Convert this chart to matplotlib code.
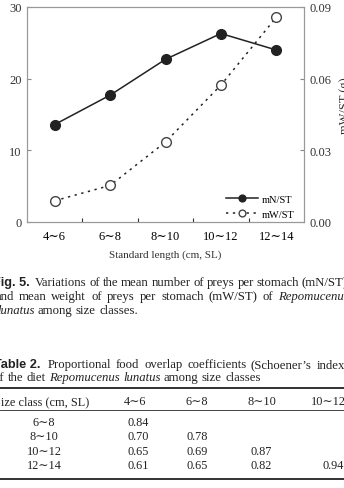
import matplotlib
matplotlib.use('Agg')
import matplotlib.pyplot as plt

# data
size_classes = ['4∼6', '6∼8', '8∼10', '10∼12', '12∼14']
mN_ST = [13.6, 17.7, 22.7, 26.3, 24.0]
mW_ST = [0.0089, 0.0153, 0.0335, 0.0573, 0.0857]

# table 2 (Schoener's index)
row_labels = ['6∼8', '8∼10', '10∼12', '12∼14']
col_labels = ['4∼6', '6∼8', '8∼10', '10∼12']
overlap = [[0.84],
           [0.70, 0.78],
           [0.65, 0.69, 0.87],
           [0.61, 0.65, 0.82, 0.94]]

serif = ['Liberation Serif', 'DejaVu Serif']
sans = ['Liberation Sans', 'DejaVu Sans']
plt.rcParams['font.family'] = serif
dark = '#222222'
txt = '#222222'

W, H = 344, 489
fig = plt.figure(figsize=(W / 100, H / 100), dpi=100)
renderer = fig.canvas.get_renderer()

def px(x, y):
    return x / W, 1 - y / H

ax = fig.add_axes([27 / W, 1 - 223 / H, 277 / W, 215 / H])
ax2 = ax.twinx()

x = list(range(len(size_classes)))
l1, = ax.plot(x, mN_ST, '-o', color=dark, lw=1.1, ms=7, mfc=dark, mec=dark, label='mN/ST')
l2, = ax2.plot(x, mW_ST, linestyle=(0, (1.5, 3)), marker='o', color=dark, lw=1.1,
               ms=7, mfc='white', mec='#444', mew=1.0, label='mW/ST')

ax.set_xlim(-0.5, 4.5)
ax.set_ylim(0, 30)
ax2.set_ylim(0, 0.09)
ax.set_yticks([0, 10, 20, 30])
ax2.set_yticks([0, 0.03, 0.06, 0.09])
ax2.set_yticklabels(['0.00', '0.03', '0.06', '0.09'])
ax.set_xticks([0.5, 1.5, 2.5, 3.5])
ax.set_xticklabels([])
ax.set_xticks(x, minor=True)
ax.set_xticklabels(size_classes, minor=True)
ax.tick_params(axis='x', which='major', direction='in', length=3, color='#888')
ax.tick_params(axis='x', which='minor', length=0, pad=6)
ax.tick_params(axis='both', labelsize=9, colors='#333')
ax.tick_params(axis='x', which='minor', labelsize=9)
ax.tick_params(axis='y', direction='in', length=3, color='#888', pad=4)
ax2.tick_params(axis='y', direction='in', length=3, color='#888', labelsize=9, pad=4,
                labelcolor='#333')
for a in (ax, ax2):
    for s in a.spines.values():
        s.set_color('#999')
        s.set_linewidth(0.8)

fig.text(*px(4, 108), 'mN/ST', rotation=90, ha='right', va='center', fontsize=9, color='#333')
fig.text(*px(339, 106), 'mW/ST (g)', rotation=90, ha='left', va='center', fontsize=9, color='#333')

leg = ax.legend(handles=[l1, l2], loc='lower right', frameon=False, fontsize=7.5,
                handlelength=3.0, handletextpad=0.4, labelspacing=0.55, markerscale=0.7,
                bbox_to_anchor=(1.0, -0.03))

fig.text(*px(165, 255), 'Standard length (cm, SL)', ha='center', va='center', fontsize=8, color='#333')


def text_w(s, **kw):
    t = fig.text(0, 0, s, **kw)
    w = t.get_window_extent(renderer).width
    t.remove()
    return w


def line(y, x0, x1, words, fs, justify=True, **base):
    # words: list of (word, extra style); justify between x0 and x1 in pixels
    styles = [dict(base, fontsize=fs, **st) for _, st in words]
    widths = [text_w(w, **st) for (w, _), st in zip(words, styles)]
    space = text_w('a b', fontsize=fs, **base) - text_w('ab', fontsize=fs, **base)
    if justify and len(words) > 1:
        gap = (x1 - x0 - sum(widths)) / (len(words) - 1)
    else:
        gap = space
    cx = x0
    for (w, _), st, wd in zip(words, styles, widths):
        fig.text(*px(cx, y), w, ha='left', va='center', color=txt, **st)
        cx += wd + gap


def words_of(s, **st):
    return [(w, st) for w in s.split()]


fs = 9.2
it = {'style': 'italic'}
bold = {'weight': 'bold', 'family': sans}
fig.text(*px(-7, 283), 'Fig. 5.', ha='left', va='center', fontsize=fs, color=txt, **bold)
line(283, 35, 348, words_of('Variations of the mean number of preys per stomach (mN/ST)'), fs)
line(297, -5, 349, words_of('and mean weight of preys per stomach (mW/ST) of') +
     [('Repomucenus', it)], fs)
line(311, -3, 0, [('lunatus', it)] + words_of('among size classes.'), fs, justify=False)

fig.text(*px(-6, 365), 'Table 2.', ha='left', va='center', fontsize=fs, color=txt, **bold)
line(365, 48, 349, words_of('Proportional food overlap coefficients (Schoener\u2019s index)'), fs)
line(378, -6, 0, words_of('of the diet') + [('Repomucenus', it), ('lunatus', it)] +
     words_of('among size classes'), fs, justify=False)

# table rules
for y, lw in [(389, 1.3), (411, 0.6), (480, 1.3)]:
    fig.add_artist(plt.Line2D([0, 1], [1 - y / H] * 2, color='#222', lw=lw))

tfs = 8.8
fig.text(*px(-6, 402), 'Size class (cm, SL)', ha='left', va='center', fontsize=tfs, color=txt)
col_x = [135, 197, 262, 328]
val_x = [138, 197, 261, 333]
for cx, lab in zip(col_x, col_labels):
    fig.text(*px(cx, 402), lab, ha='center', va='center', fontsize=tfs, color=txt)
row_y = [423, 437, 452, 466]
for ry, lab, vals in zip(row_y, row_labels, overlap):
    fig.text(*px(44, ry), lab, ha='center', va='center', fontsize=tfs, color=txt)
    for cx, v in zip(val_x, vals):
        fig.text(*px(cx, ry), f'{v:.2f}', ha='center', va='center', fontsize=tfs, color=txt)

fig.savefig('out.png', dpi=100)
